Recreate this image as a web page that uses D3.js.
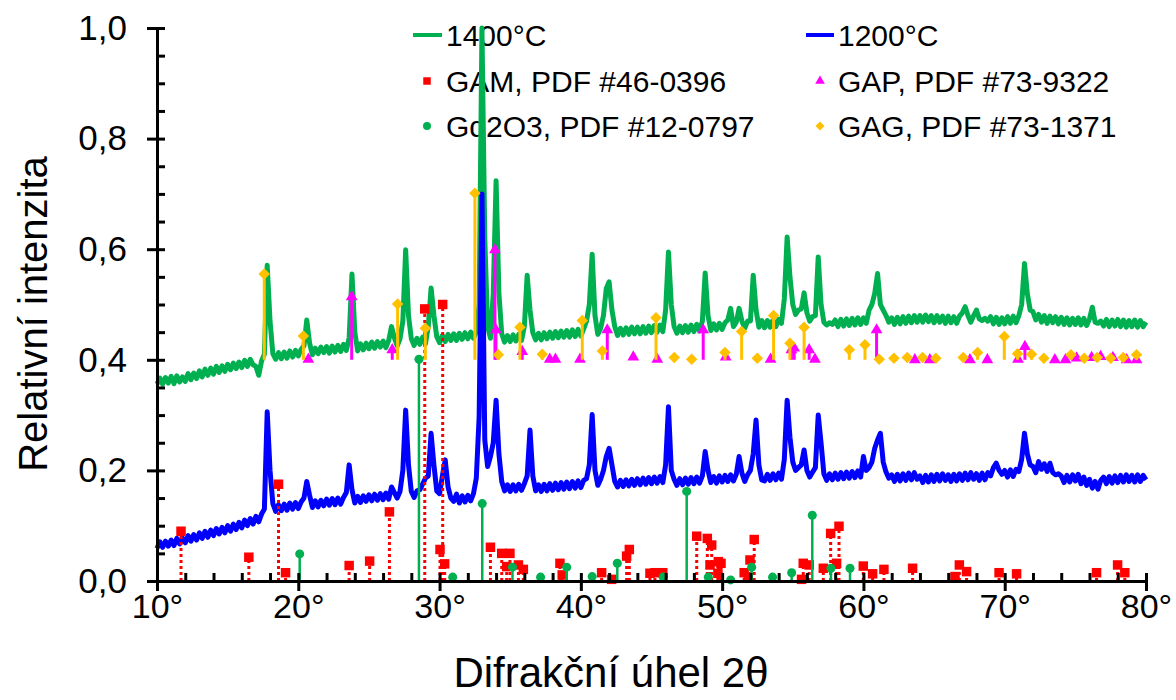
<!DOCTYPE html>
<html>
<head>
<meta charset="utf-8">
<script src="https://cdn.jsdelivr.net/npm/d3@7"></script>
<style>
  body { margin: 0; background: #fff; }
  svg { display: block; }
  text { font-family: "Liberation Sans", Arial, sans-serif; fill: #000; }
</style>
</head>
<body>
<svg id="chart" width="1176" height="700"></svg>
<script>
// Diffraction patterns sampled every 0.2° of 2θ, from 10° to 80°
const angleStart = 10;
const angleStep = 0.2;

// 1400 °C sample, relative intensity (one row per degree: x.0 x.2 x.4 x.6 x.8)
const intensity1400 = [
  .356,.367,.356,.368,.358,
  .370,.357,.371,.360,.369,
  .361,.375,.364,.376,.366,
  .380,.369,.383,.372,.385,
  .374,.388,.377,.389,.379,
  .392,.382,.394,.384,.396,
  .386,.399,.388,.401,.391,
  .388,.372,.398,.410,.571,
  .470,.411,.401,.413,.402,
  .414,.403,.416,.405,.417,
  .407,.419,.425,.472,.430,
  .409,.421,.411,.423,.413,
  .424,.412,.425,.414,.426,
  .415,.428,.417,.440,.555,
  .450,.416,.429,.418,.430,
  .420,.432,.421,.433,.423,
  .434,.422,.435,.460,.440,
  .425,.438,.470,.599,.480,
  .438,.426,.439,.428,.441,
  .429,.460,.530,.480,.442,
  .431,.444,.433,.446,.435,
  .447,.435,.448,.437,.449,
  .438,.450,.439,.451,.500,
  1.000,.620,.460,.439,.520,
  .724,.520,.447,.432,.444,
  .433,.445,.434,.446,.435,
  .460,.553,.490,.449,.436,
  .448,.436,.449,.438,.450,
  .439,.451,.440,.452,.441,
  .453,.441,.454,.442,.455,
  .443,.456,.470,.500,.591,
  .480,.446,.457,.480,.529,
  .541,.490,.460,.444,.457,
  .445,.458,.446,.459,.447,
  .459,.447,.460,.448,.461,
  .449,.462,.450,.463,.451,
  .490,.595,.500,.460,.448,
  .461,.449,.462,.450,.463,
  .451,.464,.452,.470,.557,
  .480,.453,.465,.454,.466,
  .455,.467,.472,.493,.460,
  .468,.493,.470,.457,.470,
  .470,.553,.490,.459,.471,
  .458,.471,.459,.472,.460,
  .473,.466,.510,.622,.550,
  .500,.482,.490,.492,.521,
  .485,.470,.478,.480,.586,
  .500,.468,.463,.467,.464,
  .472,.460,.473,.461,.474,
  .462,.475,.463,.476,.464,
  .476,.466,.490,.500,.520,
  .556,.500,.490,.480,.468,
  .476,.464,.477,.465,.478,
  .466,.479,.467,.480,.468,
  .480,.468,.481,.469,.480,
  .467,.480,.468,.479,.466,
  .479,.467,.478,.466,.479,
  .485,.496,.480,.468,.480,
  .490,.474,.471,.475,.470,
  .478,.465,.477,.464,.476,
  .465,.478,.466,.479,.467,
  .480,.500,.574,.520,.490,
  .487,.472,.482,.468,.480,
  .466,.479,.467,.478,.465,
  .477,.464,.476,.463,.475,
  .464,.476,.463,.475,.462,
  .474,.495,.468,.466,.470,
  .461,.473,.460,.472,.461,
  .473,.460,.472,.459,.471,
  .460,.472,.459,.471,.460,
  .468
];

// 1200 °C sample, relative intensity
const intensity1200 = [
  .059,.071,.061,.072,.063,
  .074,.064,.077,.067,.078,
  .069,.082,.072,.084,.074,
  .087,.077,.090,.079,.092,
  .082,.095,.085,.097,.087,
  .100,.090,.103,.093,.106,
  .096,.110,.100,.113,.103,
  .117,.107,.121,.130,.306,
  .200,.140,.126,.138,.127,
  .139,.128,.141,.130,.142,
  .131,.143,.150,.180,.155,
  .133,.145,.134,.146,.136,
  .148,.137,.149,.138,.150,
  .139,.151,.160,.210,.165,
  .141,.153,.142,.154,.144,
  .156,.145,.157,.146,.158,
  .147,.159,.148,.170,.160,
  .150,.162,.200,.309,.210,
  .162,.151,.163,.165,.175,
  .186,.190,.267,.210,.163,
  .158,.190,.219,.170,.150,
  .144,.157,.141,.154,.143,
  .155,.145,.158,.186,.297,
  .700,.255,.207,.225,.250,
  .327,.230,.180,.163,.174,
  .162,.174,.163,.175,.164,
  .176,.190,.273,.190,.163,
  .174,.162,.175,.163,.176,
  .164,.177,.165,.178,.166,
  .179,.167,.180,.168,.181,
  .169,.182,.185,.210,.301,
  .200,.173,.184,.200,.225,
  .240,.210,.180,.170,.182,
  .171,.183,.172,.184,.173,
  .185,.174,.186,.175,.187,
  .176,.188,.177,.189,.178,
  .210,.315,.200,.184,.173,
  .185,.174,.186,.175,.187,
  .176,.188,.177,.190,.234,
  .200,.178,.189,.177,.190,
  .179,.191,.180,.192,.181,
  .193,.225,.195,.180,.192,
  .200,.230,.291,.210,.183,
  .181,.193,.182,.194,.183,
  .195,.184,.220,.327,.260,
  .215,.200,.205,.210,.237,
  .200,.188,.197,.205,.300,
  .250,.194,.182,.194,.183,
  .195,.184,.196,.185,.197,
  .186,.198,.187,.199,.188,
  .225,.200,.205,.215,.240,
  .255,.267,.215,.197,.186,
  .192,.180,.193,.181,.194,
  .182,.195,.183,.196,.184,
  .190,.178,.191,.179,.192,
  .180,.193,.181,.194,.182,
  .192,.180,.193,.181,.194,
  .182,.195,.183,.196,.184,
  .194,.182,.195,.183,.196,
  .190,.205,.213,.200,.193,
  .200,.188,.201,.189,.202,
  .198,.220,.267,.230,.210,
  .207,.196,.216,.202,.212,
  .198,.213,.196,.192,.194,
  .190,.178,.191,.179,.192,
  .181,.193,.176,.188,.173,
  .184,.168,.180,.166,.182,
  .188,.176,.189,.177,.190,
  .178,.191,.179,.192,.180,
  .191,.179,.192,.180,.191,
  .183
];

// Reference patterns: GAM, PDF #46-0396 (sticks from 0)
const gamAngles = [11.7,16.5,18.6,19.1,23.6,25.05,26.45,28.95,30.03,30.22,30.36,33.6,34.4,34.75,34.98,35.58,35.93,38.52,38.68,41.47,42.18,43.24,43.43,44.89,45.24,45.8,48.2,48.95,49.14,49.26,49.7,49.73,49.92,51.56,51.85,51.97,52.27,55.62,55.74,56.16,57.16,57.68,58.1,58.27,59.99,60.65,61.45,63.48,66.48,66.79,67.3,69.6,70.84,76.5,77.99,78.5];
const gamValues = [0.090,0.043,0.175,0.015,0.028,0.036,0.125,0.492,0.057,0.500,0.031,0.061,0.050,0.026,0.050,0.029,0.021,0.032,0.011,0.015,0.003,0.045,0.057,0.014,0.015,0.015,0.081,0.077,0.029,0.065,0.014,0.035,0.032,0.015,0.005,0.038,0.075,0.003,0.032,0.029,0.023,0.086,0.032,0.099,0.027,0.013,0.021,0.023,0.008,0.029,0.017,0.015,0.013,0.015,0.029,0.015];

// Gd2O3, PDF #12-0797 (sticks from 0)
const gd2o3Angles = [20.1,28.54,30.93,33.02,35.16,37.15,39.0,40.8,42.58,45.83,47.49,49.02,50.6,52.09,53.57,54.92,56.38,57.7,59.05];
const gd2o3Values = [0.049,0.401,0.007,0.140,0.025,0.007,0.025,0.008,0.032,0.007,0.162,0.007,0.002,0.025,0.007,0.015,0.119,0.023,0.023];

// GAP, PDF #73-9322 (sticks offset to 0.4)
const gapAngles = [20.71,23.78,26.65,33.92,33.99,35.85,37.8,38.2,39.94,41.87,43.71,45.41,48.66,50.25,53.43,54.9,55.1,56.16,56.57,60.93,63.64,64.7,67.54,68.77,70.94,71.43,73.55,74.3,75.09,76.15,76.79,77.66,78.63,79.33];
const gapValues = [0.401,0.514,0.418,0.599,0.454,0.415,0.401,0.401,0.401,0.454,0.405,0.401,0.454,0.405,0.401,0.418,0.421,0.418,0.401,0.454,0.400,0.400,0.400,0.400,0.401,0.424,0.400,0.400,0.403,0.404,0.406,0.404,0.400,0.400];

// GAG, PDF #73-1371 (sticks offset to 0.4)
const gagAngles = [17.59,20.36,27.03,28.99,32.5,34.16,35.69,37.27,40.1,41.52,45.32,46.61,47.84,50.2,51.38,52.49,53.64,54.8,55.8,59.0,60.11,61.12,62.16,63.1,64.19,65.13,67.06,68.08,69.97,70.91,71.9,72.77,74.69,75.63,76.55,77.5,78.39,79.33];
const gagValues = [0.555,0.443,0.501,0.457,0.701,0.409,0.459,0.410,0.471,0.416,0.476,0.404,0.401,0.413,0.451,0.403,0.480,0.430,0.459,0.418,0.427,0.401,0.403,0.404,0.404,0.403,0.404,0.413,0.442,0.411,0.410,0.403,0.409,0.403,0.404,0.403,0.404,0.409];

const stickBaseLow = 0.0;
const stickBaseHigh = 0.4;

const xMajorTicks = [10,20,30,40,50,60,70,80];
const yMajorTicks = [0,0.2,0.4,0.6,0.8,1.0];

const seriesNames = ["1400°C","1200°C","GAM, PDF #46-0396","GAP, PDF #73-9322","Gd2O3, PDF #12-0797","GAG, PDF #73-1371"];

// ---- layout ----
const svg = d3.select("#chart");
const x = d3.scaleLinear().domain([10, 80]).range([157, 1146]);
const y = d3.scaleLinear().domain([0, 1]).range([581, 28]);

const colors = {
  c1400: "#00B050", c1200: "#0000FF", gam: "#FF0000",
  gap: "#FF00FF", gd: "#00B050", gag: "#FFC000"
};

const toPoints = vals => vals.map((v, i) => [angleStart + i * angleStep, v]);

// ---- legend ----
const legend = svg.append("g").attr("class", "legend");
const legendRows = [35, 81, 126];
const col1 = {sym: 427, text: 446}, col2 = {sym: 820, text: 838};

function legendText(cx, cy, label) {
  legend.append("text").attr("x", cx).attr("y", cy).attr("dy", "0.35em")
    .attr("font-size", 30).text(label);
}
legend.append("line").attr("x1", 413).attr("x2", 442).attr("y1", legendRows[0]).attr("y2", legendRows[0])
  .attr("stroke", colors.c1400).attr("stroke-width", 4);
legendText(col1.text, legendRows[0], seriesNames[0]);
legend.append("line").attr("x1", 806).attr("x2", 834).attr("y1", legendRows[0]).attr("y2", legendRows[0])
  .attr("stroke", colors.c1200).attr("stroke-width", 4);
legendText(col2.text, legendRows[0], seriesNames[1]);

legend.append("path").attr("d", d3.symbol(d3.symbolSquare, 56)())
  .attr("transform", `translate(${col1.sym},${legendRows[1]})`).attr("fill", colors.gam);
legendText(col1.text, legendRows[1], seriesNames[2]);
legend.append("path").attr("d", d3.symbol(d3.symbolTriangle, 40)())
  .attr("transform", `translate(${col2.sym},${legendRows[1]})`).attr("fill", colors.gap);
legendText(col2.text, legendRows[1], seriesNames[3]);
legend.append("path").attr("d", d3.symbol(d3.symbolCircle, 50)())
  .attr("transform", `translate(${col1.sym},${legendRows[2]})`).attr("fill", colors.gd);
legendText(col1.text, legendRows[2], seriesNames[4]);
legend.append("path").attr("d", d3.symbol(d3.symbolSquare, 40)())
  .attr("transform", `translate(${col2.sym},${legendRows[2]}) rotate(45)`).attr("fill", colors.gag);
legendText(col2.text, legendRows[2], seriesNames[5]);

// ---- measured patterns ----
const pathLine = d3.line().x(d => x(d[0])).y(d => y(d[1]));
svg.append("path").datum(toPoints(intensity1400))
  .attr("d", pathLine).attr("fill", "none").attr("stroke", colors.c1400)
  .attr("stroke-width", 5).attr("stroke-linejoin", "round");
svg.append("path").datum(toPoints(intensity1200))
  .attr("d", pathLine).attr("fill", "none").attr("stroke", colors.c1200)
  .attr("stroke-width", 5).attr("stroke-linejoin", "round");

// ---- reference sticks ----
function sticks(angles, values, base, color, symbolType, size, opts) {
  const g = svg.append("g");
  const data = angles.map((a, i) => ({a, v: values[i]}));
  g.selectAll("line").data(data).join("line")
    .attr("x1", d => x(d.a)).attr("x2", d => x(d.a))
    .attr("y1", y(base)).attr("y2", d => y(d.v))
    .attr("stroke", color).attr("stroke-width", opts.width)
    .attr("stroke-dasharray", opts.dash || null);
  g.selectAll("path").data(data).join("path")
    .attr("d", d3.symbol(symbolType, size)())
    .attr("transform", d => `translate(${x(d.a)},${y(d.v)})` + (opts.rotate ? ` rotate(${opts.rotate})` : ""))
    .attr("fill", color);
}
sticks(gamAngles, gamValues, stickBaseLow, colors.gam, d3.symbolSquare, 90, {width: 3, dash: "3,3"});
sticks(gapAngles, gapValues, stickBaseHigh, colors.gap, d3.symbolTriangle, 60, {width: 3});
sticks(gd2o3Angles, gd2o3Values, stickBaseLow, colors.gd, d3.symbolCircle, 64, {width: 2.5});
sticks(gagAngles, gagValues, stickBaseHigh, colors.gag, d3.symbolSquare, 66, {width: 3, rotate: 45});

// ---- axes ----
const axisStyle = g => {
  g.selectAll(".domain").attr("stroke", "#000").attr("stroke-width", 3);
  g.selectAll(".tick line").attr("stroke", "#000").attr("stroke-width", 3);
};
const xMinor = d3.range(10, 80.1, 2);
const yMinor = d3.range(0, 1.001, 0.05);

svg.append("g").attr("transform", `translate(0,${y(0)})`)
  .call(d3.axisTop(x).tickValues(xMinor).tickSize(8).tickFormat("").tickSizeOuter(0))
  .call(axisStyle).call(g => g.select(".domain").remove());
svg.append("g").attr("transform", `translate(${x(10)},0)`)
  .call(d3.axisRight(y).tickValues(yMinor).tickSize(8).tickFormat("").tickSizeOuter(0))
  .call(axisStyle).call(g => g.select(".domain").remove());

const xAxis = svg.append("g").attr("transform", `translate(0,${y(0)})`)
  .call(d3.axisBottom(x).tickValues(xMajorTicks).tickSize(10).tickSizeOuter(0).tickPadding(3)
    .tickFormat(d => d + "°"))
  .call(axisStyle);
xAxis.selectAll(".tick text").attr("font-size", 34).attr("font-family", "Liberation Sans, Arial, sans-serif").attr("fill", "#000");

const yAxis = svg.append("g").attr("transform", `translate(${x(10)},0)`)
  .call(d3.axisLeft(y).tickValues(yMajorTicks).tickSize(10).tickSizeOuter(0).tickPadding(20)
    .tickFormat(d => d.toFixed(1).replace(".", ",")))
  .call(axisStyle);
yAxis.selectAll(".tick text").attr("font-size", 35).attr("font-family", "Liberation Sans, Arial, sans-serif").attr("fill", "#000");

// ---- axis titles ----
svg.append("text").attr("x", 611).attr("y", 672).attr("dy", "0.35em")
  .attr("text-anchor", "middle").attr("font-size", 42).text("Difrakční úhel 2θ");
svg.append("text").attr("transform", "translate(33,314) rotate(-90)").attr("dy", "0.35em")
  .attr("text-anchor", "middle").attr("font-size", 40).text("Relativní intenzita");
</script>
</body>
</html>
